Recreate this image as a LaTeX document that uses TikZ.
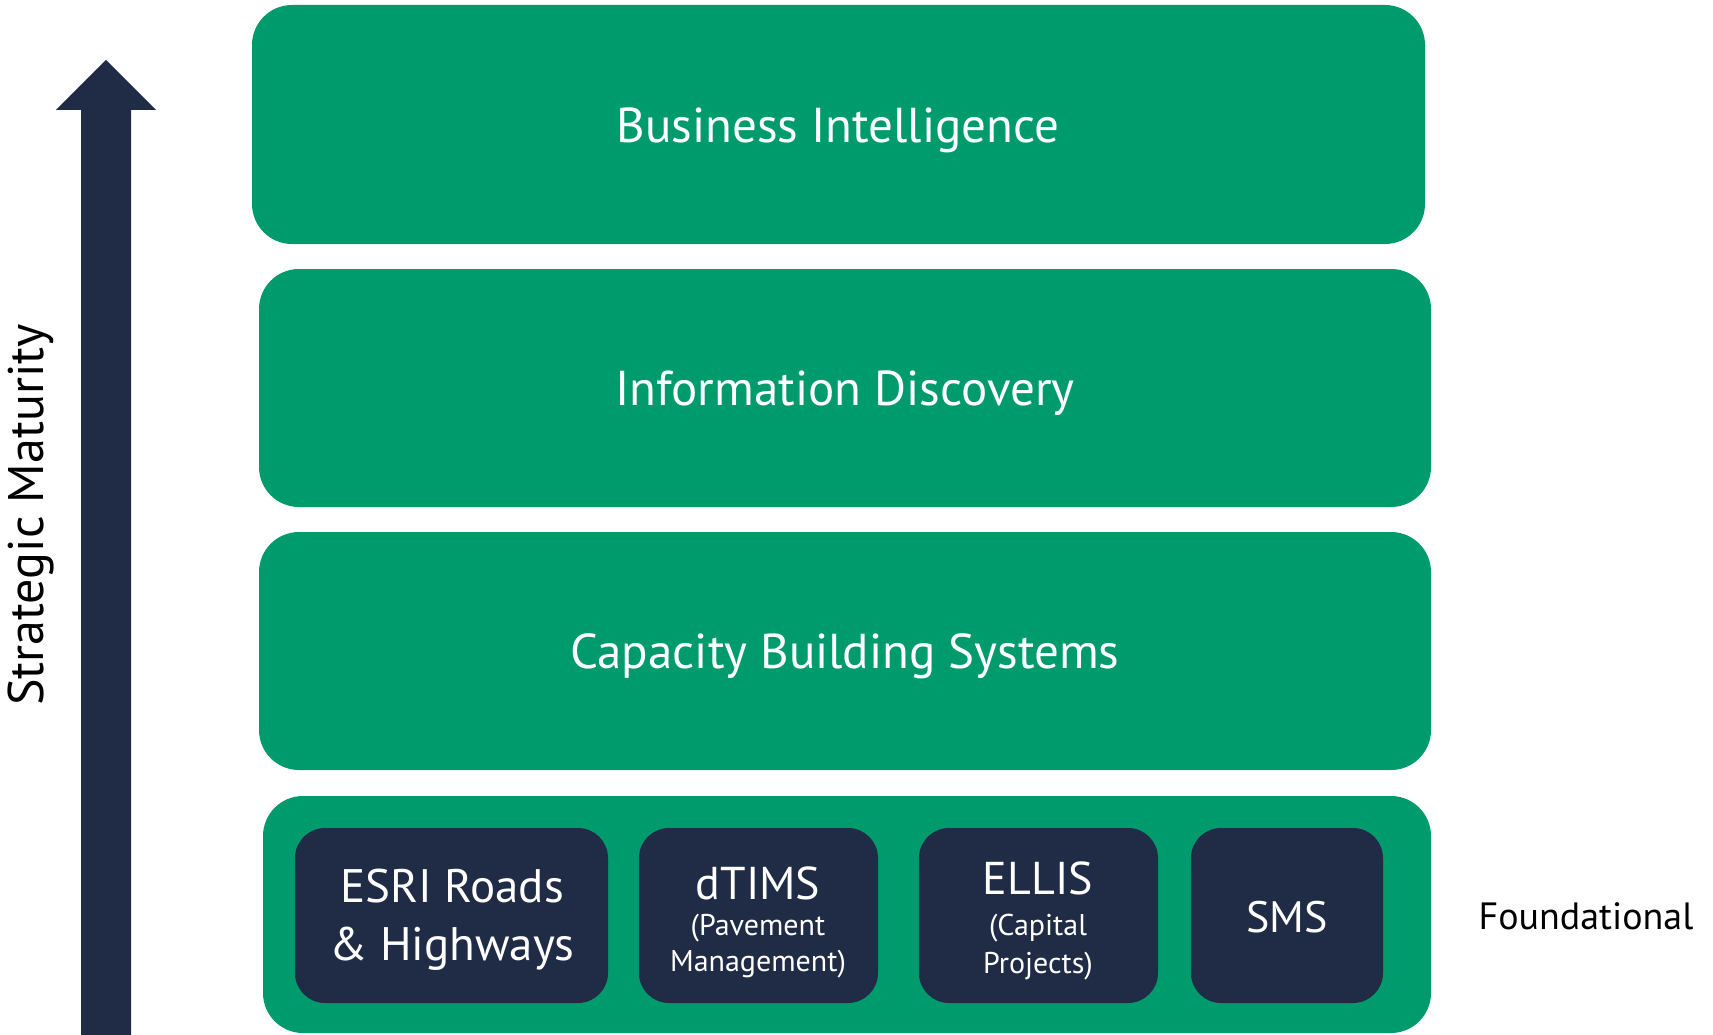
\documentclass[tikz,border=0pt]{standalone}
\usepackage{fontspec}
\setmainfont{PT Sans}
\definecolor{grn}{RGB}{0,155,109}
\definecolor{navy}{RGB}{32,43,69}
\newcommand{\fs}[2]{\fontsize{#1}{#2}\selectfont}
\begin{document}
\begin{tikzpicture}[x=1pt,y=-1pt,
  layer/.style={fill=grn, rounded corners=40pt, draw=none},
  inner/.style={fill=navy, rounded corners=30pt, draw=none},
  big/.style={text=white, font=\fs{49}{56}},
  ttl/.style={text=white, font=\fs{47}{58}, align=center},
  sub/.style={text=white, font=\fs{30}{36}, align=center}]
\useasboundingbox (0,0) rectangle (1713,1035);
% layers
\fill[layer] (252,5) rectangle (1425,244);
\fill[layer] (259,269) rectangle (1431,507);
\fill[layer] (259,532) rectangle (1431,770);
\fill[layer] (263,796) rectangle (1431,1033);
\node[big] (bi) at (838,130) {Business Intelligence};
\node[big] (id) at (845,393) {Information Discovery};
\node[big] (cb) at (845,656) {Capacity Building Systems};
% inner boxes
\fill[inner] (295,828) rectangle (608,1003);
\fill[inner] (639,828) rectangle (878,1003);
\fill[inner] (919,828) rectangle (1158,1003);
\fill[inner] (1191,828) rectangle (1383,1003);
\node[ttl] (esri) at (452,920) {ESRI Roads\\\& Highways};
\node[ttl, font=\fs{46}{56}] (dtims) at (758,883) {dTIMS};
\node[sub] (dsub) at (758,946) {(Pavement\\Management)};
\node[ttl, font=\fs{46}{56}] (ellis) at (1038,878) {ELLIS};
\node[sub, font=\fs{30}{38}] (esub) at (1038,947) {(Capital\\Projects)};
\node[ttl, font=\fs{44}{52}] (sms) at (1287,917) {SMS};
\node[font=\fs{38}{44}] (fnd) at (1586,916) {Foundational};
% arrow
\fill[navy] (81,1035) -- (81,110) -- (56,110) -- (106,60) -- (156,110) -- (131,110) -- (131,1035) -- cycle;
\node[rotate=90, font=\fs{50}{56}] (sm) at (31,515) {Strategic Maturity};
\end{tikzpicture}
\end{document}
